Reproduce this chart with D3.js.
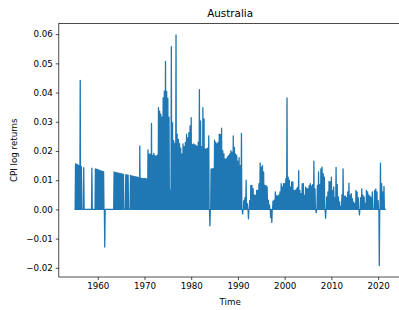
<!DOCTYPE html>
<head>
   <meta charset="utf-8">
   <script src="https://d3js.org/d3.v7.min.js"></script>
   <style>
   body{
       margin: 0;
       background: #ffffff;
   }
   text{
      font-family: "DejaVu Sans", sans-serif;
      fill: #000000;
   }
   text.title{
      font-size: 10.4px;
   }
   text.axisLabel{
      font-size: 8.7px;
   }
   .tick text{
      font-size: 8.7px;
      font-family: "DejaVu Sans", sans-serif;
   }
   .tick line{
      stroke: #000000;
      stroke-width: 0.7;
   }
   path.domain{
      display: none;
   }
   </style>
   <title>Australia</title>
</head>

<body>
   <script>
const width  = 399;
const height = 310;

const title  = 'Australia';
const xLabel = 'Time';
const yLabel = 'CPI log returns';

// quarterly CPI log returns, first quarter = 1955 Q1 (value sits on the quarter's first month, other months are 0)
const startYear = 1955;
const returns = [
   0,      .0156,  .0155,  .0152,   // 1955
   .0150,  .0442,  .0146,  0,       // 1956
   .0143,  0,      0,      0,       // 1957
   0,      0,      0,      .0141,   // 1958
   0,      0,      .0139,  .0138,   // 1959
   .0136,  .0135,  .0133,  .0132,   // 1960
   .0130,  .0129, -.0129,  0,       // 1961
   0,      0,      0,      0,       // 1962
   0,      0,      .0128,  .0127,   // 1963
   .0126,  .0125,  .0124,  .0123,   // 1964
   .0122,  .0121,  .0120,  0,       // 1965
   .0119,  .0118,  .0117,  0,       // 1966
   .0116,  .0115,  .0114,  .0113,   // 1967
   .0112,  .0111,  .0110,  .0109,   // 1968
   .0217,  .0107,  .0106,  .0105,   // 1969
   .0106,  .0105,  .0104,  .0204,   // 1970
   .0190,  .0188,  .0294,  .0185,   // 1971
   .0192,  .0184,  .0182,  .0186,   // 1972
   .0348,  .0336,  .0326,  .0316,   // 1973
   .0382,  .0405,  .0507,  .0404,   // 1974
   .0380,  .0316,  .0065,  .0557,   // 1975
   .0297,  .0235,  .0225,  .0597,   // 1976
   .0258,  .0240,  .0225,  .0210,   // 1977
   .0190,  .0224,  .0215,  .0229,   // 1978
   .0258,  .0245,  .0263,  .0286,   // 1979
   .0314,  .0222,  .0224,  .0221,   // 1980
   .0220,  .0216,  .0230,  .0410,   // 1981
   .0303,  .0215,  .0348,  .0310,   // 1982
   .0207,  .0207,  .0210,  .0252,   // 1983
  -.0056,  .0139,  .0139,  .0140,   // 1984
   .0237,  .0229,  .0224,  .0229,   // 1985
   .0258,  .0256,  .0278,  .0201,   // 1986
   .0190,  .0173,  .0173,  .0180,   // 1987
   .0184,  .0190,  .0201,  .0196,   // 1988
   .0252,  .0212,  .0190,  .0184,   // 1989
   .0165,  .0177,  .0150,  .0260,   // 1990
  -.0016,  .0030,  .0040,  .0100,   // 1991
   .0020, -.0032,  .0030,  .0082,   // 1992
   .0082,  .0071,  .0050,  .0048,   // 1993
   .0065,  .0065,  .0088,  .0159,   // 1994
   .0145,  .0150,  .0128,  .0082,   // 1995
   .0082,  .0077,  .0032,  .0015,   // 1996
  -.0028, -.0045,  .0028,  .0032,   // 1997
   .0060,  .0048,  .0045,  .0050,   // 1998
   .0060,  .0088,  .0077,  .0088,   // 1999
   .0088,  .0105,  .0382,  .0110,   // 2000
   .0100,  .0077,  .0094,  .0094,   // 2001
   .0065,  .0065,  .0070,  .0075,   // 2002
   .0133,  .0065,  .0054,  .0088,   // 2003
   .0088,  .0048,  .0077,  .0071,   // 2004
   .0071,  .0082,  .0088,  .0080,   // 2005
   .0085,  .0165,  .0070, -.0011,   // 2006
   .0082,  .0128,  .0085,  .0139,   // 2007
   .0145,  .0122,  .0110, -.0030,   // 2008
   .0043,  .0060,  .0096,  .0094,   // 2009
   .0110,  .0065,  .0077,  .0040,   // 2010
   .0144,  .0085,  .0043,  .0026,   // 2011
   .0010,  .0050,  .0139,  .0045,   // 2012
   .0045,  .0040,  .0060,  .0090,   // 2013
   .0049,  .0054,  .0037,  .0025,   // 2014
   .0020,  .0065,  .0060,  .0040,   // 2015
  -.0019,  .0040,  .0070,  .0049,   // 2016
   .0043,  .0020,  .0065,  .0060,   // 2017
   .0049,  .0045,  .0040,  .0060,   // 2018
   .0000,  .0065,  .0070,  .0060,   // 2019
   .0030, -.0192,  .0158,  .0088,   // 2020
   .0060,  .0079,  0                // 2021
];

const xTicks = [1960, 1970, 1980, 1990, 2000, 2010, 2020];
const yTicks = [-0.02, -0.01, 0.00, 0.01, 0.02, 0.03, 0.04, 0.05, 0.06];

const margin = {
   top: 23.5,
   right: -2.5,
   bottom: 33,
   left: 58.8
};

// monthly table: return on the quarter's first month, zero on the two others
const monthly = [];
returns.forEach((v, j) => {
   for (let k = 0; k < 3; k++) {
      const m = j*3 + k;
      monthly.push({ t: startYear + m/12, v: k == 0 ? v : 0 });
   }
});

const svg = d3.select("body").append("svg")
   .attr("width", width)
   .attr("height", height);

// matplotlib style 5% margins around the data
const tExt = d3.extent(monthly, d => d.t);
const vExt = d3.extent(monthly, d => d.v);
const tPad = (tExt[1]-tExt[0])*0.05;
const vPad = (vExt[1]-vExt[0])*0.05;

const x = d3.scaleLinear()
   .domain([tExt[0]-tPad, tExt[1]+tPad])
   .range([margin.left, width-margin.right]);

const y = d3.scaleLinear()
   .domain([vExt[0]-vPad, vExt[1]+vPad])
   .range([height-margin.bottom, margin.top]);

const fmt = d3.format('.2f');

const xAxis = d3.axisBottom(x)
   .tickValues(xTicks)
   .tickSize(3)
   .tickPadding(2.5)
   .tickFormat(d => d);

const yAxis = d3.axisLeft(y)
   .tickValues(yTicks)
   .tickSize(3)
   .tickPadding(3)
   .tickFormat(d => fmt(d).replace('-', '\u2212'));

svg.append('g')
   .attr('class', 'axis xAxis')
   .attr('transform', `translate(0, ${height-margin.bottom})`)
   .call(xAxis);

svg.append('g')
   .attr('class', 'axis yAxis')
   .attr('transform', `translate(${margin.left}, 0)`)
   .call(yAxis);

// the series
const line = d3.line()
   .x(d => x(d.t))
   .y(d => y(d.v));

svg.append('path')
   .datum(monthly)
   .attr('fill', 'none')
   .attr('stroke', '#1f77b4')
   .attr('stroke-width', 1.3)
   .attr('stroke-linejoin', 'round')
   .attr('d', line);

// frame
svg.append('rect')
   .attr('x', margin.left)
   .attr('y', margin.top)
   .attr('width', width-margin.right-margin.left)
   .attr('height', height-margin.bottom-margin.top)
   .attr('fill', 'none')
   .attr('stroke', '#000000')
   .attr('stroke-width', 0.7);

svg.append('text')
   .attr('class', 'title')
   .attr('x', (margin.left + width-margin.right)/2)
   .attr('y', 16.8)
   .style('text-anchor', 'middle')
   .text(title);

svg.append('text')
   .attr('class', 'axisLabel')
   .attr('x', (margin.left + width-margin.right)/2)
   .attr('y', 304.5)
   .style('text-anchor', 'middle')
   .text(xLabel);

svg.append('text')
   .attr('class', 'axisLabel')
   .attr('transform', `translate(16.5, ${(margin.top + height-margin.bottom)/2}) rotate(-90)`)
   .style('text-anchor', 'middle')
   .text(yLabel);
   </script>
</body>
